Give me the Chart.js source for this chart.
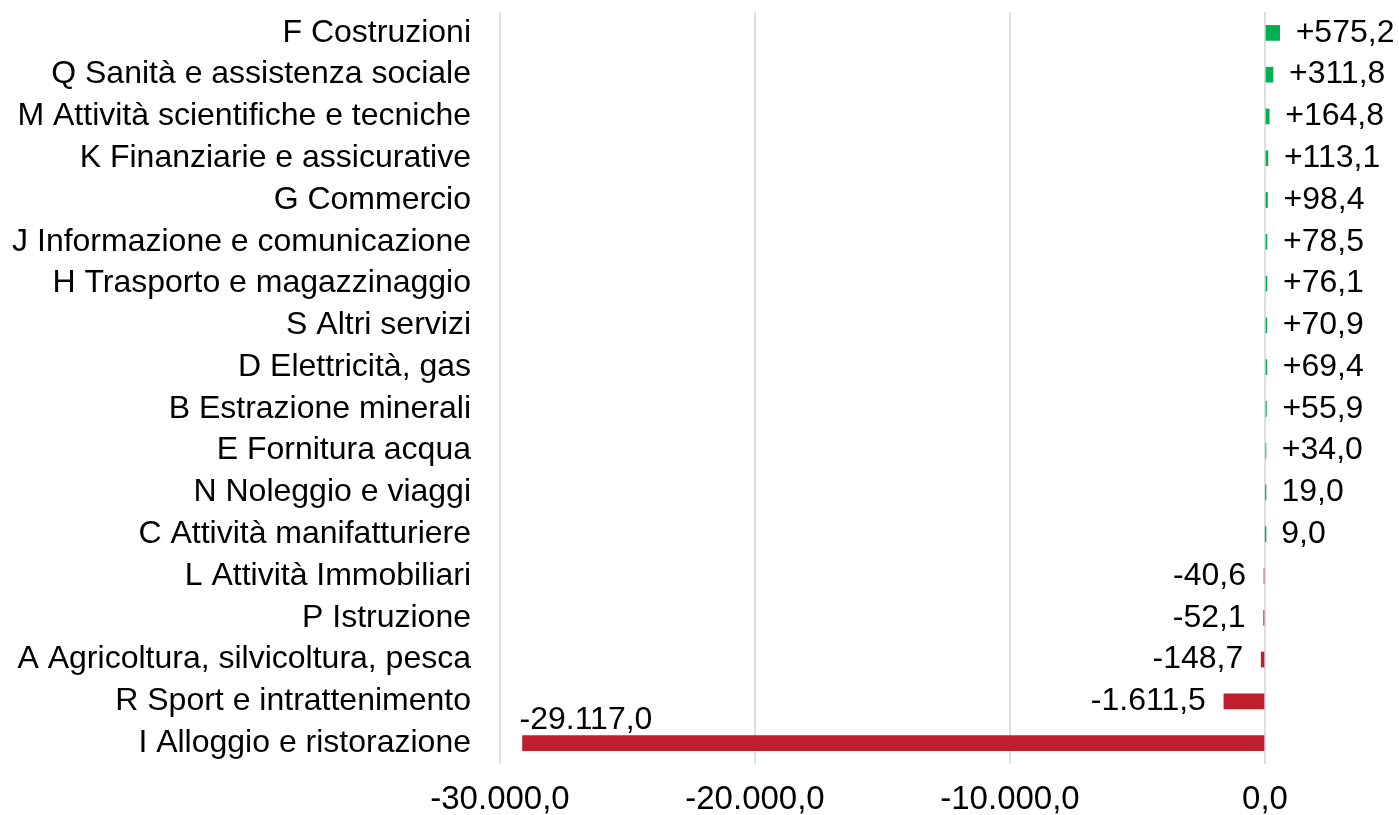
<!DOCTYPE html>
<html lang="it">
<head>
<meta charset="utf-8">
<title>Variazione per settore</title>
<script src="https://cdn.jsdelivr.net/npm/chart.js@4"></script>
<style>
  html, body { margin: 0; padding: 0; background: #fff; }
  #wrap { width: 1399px; height: 815px; position: relative; }
</style>
</head>
<body>
<div id="wrap"><canvas id="sectorChart"></canvas></div>
<script>
// Categories, top to bottom
const sectors = [
    'F Costruzioni',
    'Q Sanità e assistenza sociale',
    'M Attività scientifiche e tecniche',
    'K Finanziarie e assicurative',
    'G Commercio',
    'J Informazione e comunicazione',
    'H Trasporto e magazzinaggio',
    'S Altri servizi',
    'D Elettricità, gas',
    'B Estrazione minerali',
    'E Fornitura acqua',
    'N Noleggio e viaggi',
    'C Attività manifatturiere',
    'L Attività Immobiliari',
    'P Istruzione',
    'A Agricoltura, silvicoltura, pesca',
    'R Sport e intrattenimento',
    'I Alloggio e ristorazione'
];
const changes = [575.2, 311.8, 164.8, 113.1, 98.4, 78.5, 76.1, 70.9, 69.4, 55.9, 34.0, 19.0, 9.0, -40.6, -52.1, -148.7, -1611.5, -29117.0];
const xTicks = [-30000, -20000, -10000, 0];

const FONT = "'Liberation Sans', Arial, sans-serif";
const GREEN = '#00B050';
const RED = '#BE1E2D';

// Italian number format, one decimal
function fmt(v) {
    const neg = v < 0;
    const parts = Math.abs(v).toFixed(1).split('.');
    const int = parts[0].replace(/\B(?=(\d{3})+(?!\d))/g, '.');
    return (neg ? '-' : '') + int + ',' + parts[1];
}
function fmtLabel(v) {
    return (v > 30 ? '+' : '') + fmt(v);
}

// value labels next to the bars
const valueLabels = {
    id: 'valueLabels',
    afterDatasetsDraw(chart) {
        const ctx = chart.ctx;
        const meta = chart.getDatasetMeta(0);
        const area = chart.chartArea;
        ctx.save();
        ctx.font = '32px ' + FONT;
        ctx.fillStyle = '#000';
        ctx.textBaseline = 'middle';
        meta.data.forEach((bar, i) => {
            const v = changes[i];
            const txt = fmtLabel(v);
            const w = ctx.measureText(txt).width;
            if (v >= 0) {
                ctx.textAlign = 'left';
                ctx.fillText(txt, bar.x + 16, bar.y);
            } else if (bar.x - 18 - w < area.left) {
                ctx.textAlign = 'left';
                ctx.fillText(txt, bar.x - 3, bar.y - 23);
            } else {
                ctx.textAlign = 'right';
                ctx.fillText(txt, bar.x - 18, bar.y);
            }
        });
        ctx.restore();
    }
};

const ctx = document.getElementById('sectorChart').getContext('2d');
const chart = new Chart(ctx, {
    type: 'bar',
    data: {
        labels: sectors,
        datasets: [{
            data: changes,
            backgroundColor: changes.map(v => v >= 0 ? GREEN : RED),
            borderWidth: 0,
            barThickness: 15
        }]
    },
    options: {
        indexAxis: 'y',
        responsive: true,
        maintainAspectRatio: false,
        animation: false,
        layout: { padding: { top: 12, right: 0, bottom: 0, left: 0 } },
        plugins: {
            legend: { display: false },
            tooltip: { enabled: false }
        },
        scales: {
            x: {
                min: -30000,
                max: 5255,
                afterBuildTicks: scale => {
                    scale.ticks = xTicks.map(v => ({ value: v }));
                },
                afterFit: scale => {
                    scale.height = 51;
                    scale.paddingLeft = 0;
                    scale.paddingRight = 0;
                },
                grid: {
                    color: '#DEDEDE',
                    lineWidth: 2,
                    drawTicks: false
                },
                border: { display: false },
                ticks: {
                    padding: 16,
                    color: '#000',
                    font: { family: FONT, size: 33 },
                    callback: v => fmt(v)
                }
            },
            y: {
                afterFit: scale => {
                    scale.width = 500;
                    scale.paddingTop = 0;
                    scale.paddingBottom = 0;
                },
                grid: { display: false, drawTicks: false },
                border: { display: false },
                ticks: {
                    padding: 29,
                    autoSkip: false,
                    color: '#000',
                    font: { family: FONT, size: 32 }
                }
            }
        }
    },
    plugins: [valueLabels]
});
</script>
</body>
</html>
